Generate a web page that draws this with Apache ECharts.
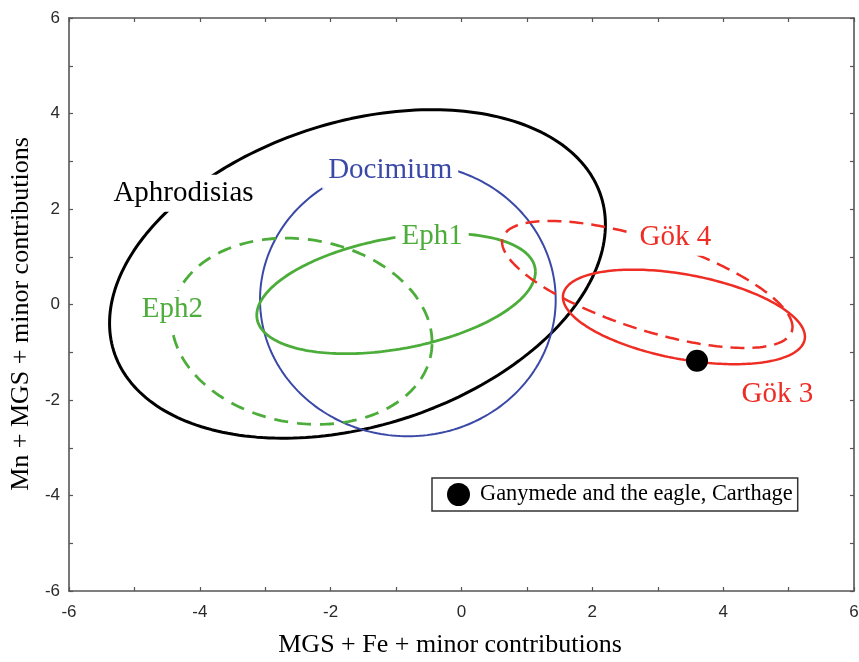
<!DOCTYPE html>
<html>
<head>
<meta charset="utf-8">
<script src="https://cdn.jsdelivr.net/npm/echarts@6/dist/echarts.min.js"></script>
<style>
  html, body { margin: 0; padding: 0; background: #fff; }
  #chart { width: 859px; height: 662px; }
</style>
</head>
<body>
<div id="chart"></div>
<script>
// Group ellipses: centre, spread along each axis and the x–y correlation
const groupNames  = ['Aphrodisias', 'Docimium', 'Eph1', 'Eph2', 'Gök 4', 'Gök 3'];
const centerX     = [-1.59, -0.82, -1.00, -2.44, 2.84, 3.40];
const centerY     = [ 0.64,  0.10,  0.23, -0.56, 0.42, -0.26];
const spreadX     = [ 3.79,  2.26,  2.13,  1.99, 2.22,  1.85];
const spreadY     = [ 3.44,  2.86,  1.26,  1.95, 1.33,  0.99];
const correlation = [ 0.30,  0.00,  0.36, -0.12, -0.67, -0.42];

// The single analysed sample
const sampleName = 'Ganymede and the eagle, Carthage';
const sampleX = [3.60];
const sampleY = [-1.18];

// Axis ranges and ticks
const axisMin = -6, axisMax = 6, axisStep = 2;

// Line style and label anchor for each group
const groupStyle = {
  'Aphrodisias': { color: '#000000', width: 3.0, dash: 'solid',  labelAt: [-4.25,  2.33] },
  'Docimium':    { color: '#3a49a6', width: 2.0, dash: 'solid',  labelAt: [-1.09,  2.81] },
  'Eph1':        { color: '#4cad3a', width: 2.8, dash: 'solid',  labelAt: [-0.45,  1.42] },
  'Eph2':        { color: '#4cad3a', width: 2.8, dash: [14, 9],  labelAt: [-4.42, -0.10] },
  'Gök 4':       { color: '#ee2d24', width: 2.5, dash: [14, 8],  labelAt: [ 3.27,  1.41] },
  'Gök 3':       { color: '#ee2d24', width: 2.5, dash: 'solid',  labelAt: [ 4.83, -1.88] }
};

const SERIF = '"Liberation Serif", "Times New Roman", serif';
const SANS = '"Liberation Sans", Arial, sans-serif';

// Closed outline of an ellipse given by spreads and correlation
function ellipseOutline(i) {
  const phi = Math.acos(correlation[i]);
  const n = 240;
  const pts = [];
  for (let k = 0; k <= n; k++) {
    const t = 2 * Math.PI * k / n;
    pts.push([centerX[i] + spreadX[i] * Math.cos(t),
              centerY[i] + spreadY[i] * Math.cos(t - phi)]);
  }
  return pts;
}

const ellipseSeries = groupNames.map((name, i) => ({
  name: name,
  type: 'line',
  data: ellipseOutline(i),
  showSymbol: false,
  symbol: 'none',
  smooth: false,
  silent: true,
  z: 2,
  lineStyle: {
    color: groupStyle[name].color,
    width: groupStyle[name].width,
    type: groupStyle[name].dash,
    opacity: 1
  }
}));

const labelSeries = groupNames.map(name => ({
  name: name + ' label',
  type: 'scatter',
  symbolSize: 1,
  silent: true,
  z: 4,
  itemStyle: { color: 'rgba(0,0,0,0)', opacity: 1 },
  data: [groupStyle[name].labelAt],
  label: {
    show: true,
    position: 'inside',
    formatter: name,
    fontFamily: SERIF,
    fontSize: 29,
    color: groupStyle[name].color,
    backgroundColor: '#ffffff',
    padding: [4, 6],
    opacity: 1
  }
}));

const sampleSeries = {
  name: sampleName,
  type: 'scatter',
  symbol: 'circle',
  symbolSize: 22,
  z: 6,
  itemStyle: { color: '#000000', opacity: 1 },
  data: sampleX.map((x, i) => [x, sampleY[i]])
};

const frameAxis = (position, isX, showLabels) => ({
  type: 'value',
  position: position,
  min: axisMin,
  max: axisMax,
  interval: axisStep,
  axisLine: { show: true, onZero: false, lineStyle: { color: '#555555', width: 1.6 } },
  axisTick: { show: true, inside: true, length: 4, lineStyle: { color: '#555555', width: 1.2 } },
  minorTick: { show: true, splitNumber: 2, length: 4, lineStyle: { color: '#555555', width: 1.2 } },
  splitLine: { show: false },
  minorSplitLine: { show: false },
  axisLabel: {
    show: showLabels,
    fontFamily: SANS,
    fontSize: 17,
    color: '#2a2a2a',
    margin: isX ? 13 : 9
  }
});

const xBottom = Object.assign(frameAxis('bottom', true, true), {
  name: 'MGS + Fe + minor contributions',
  nameLocation: 'middle',
  nameGap: 41,
  nameTextStyle: { fontFamily: SERIF, fontSize: 26, color: '#000', padding: [0, 23, 0, 0] }
});
const yLeft = Object.assign(frameAxis('left', false, true), {
  name: 'Mn + MGS + minor contributions',
  nameLocation: 'middle',
  nameGap: 35,
  nameTextStyle: { fontFamily: SERIF, fontSize: 26, color: '#000', padding: [0, 19, 0, 0] }
});

const chart = echarts.init(document.getElementById('chart'), null, { renderer: 'canvas' });
chart.setOption({
  animation: false,
  backgroundColor: '#ffffff',
  grid: { left: 69, right: 5, top: 18, bottom: 71, outerBoundsMode: 'none', containLabel: false },
  xAxis: [xBottom, frameAxis('top', true, false)],
  yAxis: [yLeft, frameAxis('right', false, false)],
  legend: {
    data: [sampleName],
    left: 432,
    top: 478,
    icon: 'circle',
    itemWidth: 23,
    itemHeight: 23,
    padding: [5, 5, 5, 15],
    borderColor: '#333333',
    borderWidth: 1.5,
    borderRadius: 0,
    backgroundColor: '#ffffff',
    selectedMode: false,
    itemStyle: { opacity: 1, color: '#000000' },
    textStyle: { fontFamily: SERIF, fontSize: 22.4, color: '#000', padding: [0, 0, 0, 5] }
  },
  series: [...ellipseSeries, ...labelSeries, sampleSeries]
});
</script>
</body>
</html>
